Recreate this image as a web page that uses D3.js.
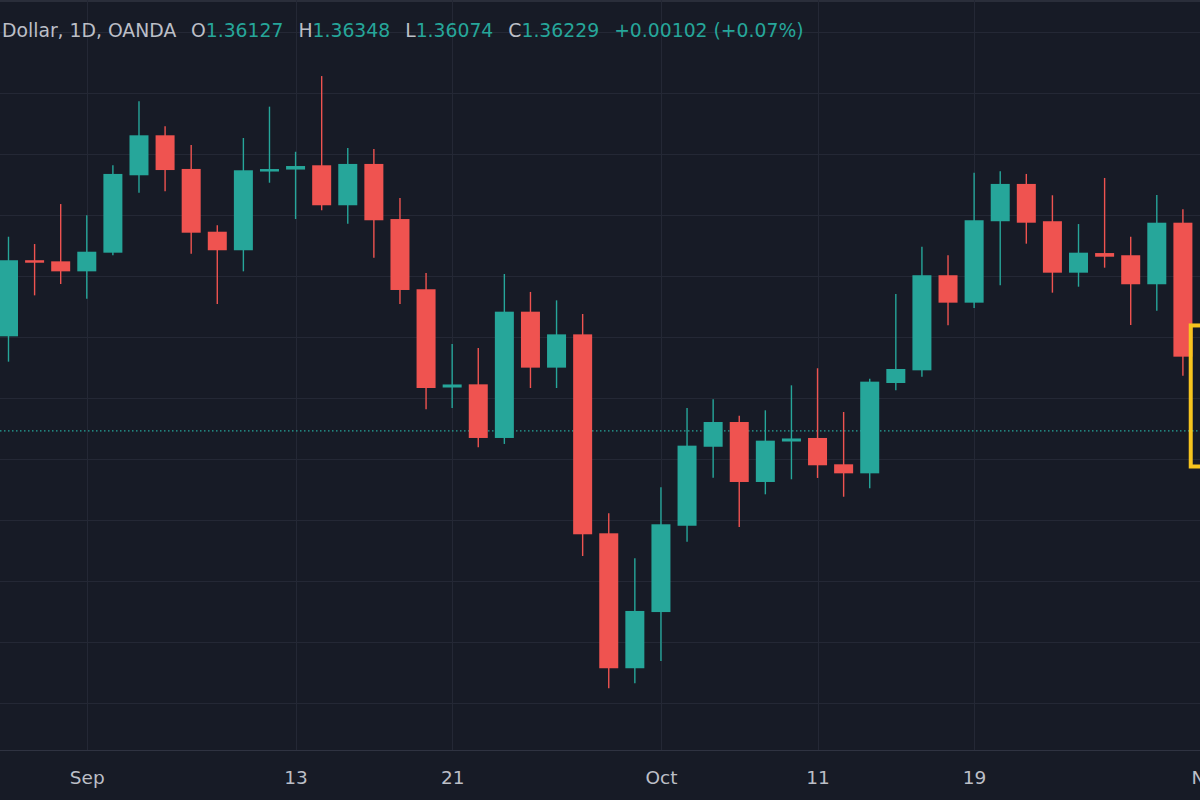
<!DOCTYPE html>
<html>
<head>
<meta charset="utf-8">
<script src="https://cdn.jsdelivr.net/npm/d3@7"></script>
<style>
  html, body { margin: 0; padding: 0; background: #171b26; overflow: hidden; }
  text { font-family: "DejaVu Sans", sans-serif; }
</style>
</head>
<body>
<div id="chart"></div>
<script>
/**
 * DATA (GBP/USD daily)
 * */
const dates = [
  "Aug 27", "Aug 30", "Aug 31", "Sep 1", "Sep 2", "Sep 3", "Sep 6", "Sep 7", "Sep 8", "Sep 9",
  "Sep 10", "Sep 13", "Sep 14", "Sep 15", "Sep 16", "Sep 17", "Sep 20", "Sep 21", "Sep 22", "Sep 23",
  "Sep 24", "Sep 27", "Sep 28", "Sep 29", "Sep 30", "Oct 1", "Oct 4", "Oct 5", "Oct 6", "Oct 7",
  "Oct 8", "Oct 11", "Oct 12", "Oct 13", "Oct 14", "Oct 15", "Oct 18", "Oct 19", "Oct 20", "Oct 21",
  "Oct 22", "Oct 25", "Oct 26", "Oct 27", "Oct 28", "Oct 29"
];
const opens = [
  1.37004, 1.37626, 1.37619, 1.37537, 1.37690, 1.38325, 1.38653, 1.38377, 1.37862, 1.37710,
  1.38360, 1.38372, 1.38407, 1.38079, 1.38418, 1.37966, 1.37390, 1.36584, 1.36610, 1.36170,
  1.37206, 1.36747, 1.37020, 1.35388, 1.34281, 1.34742, 1.35450, 1.36098, 1.36301, 1.35809,
  1.36141, 1.36170, 1.35954, 1.35880, 1.36621, 1.36725, 1.37505, 1.37280, 1.37948, 1.38254,
  1.37948, 1.37526, 1.37687, 1.37669, 1.37431, 1.37936
];
const highs = [
  1.37821, 1.37761, 1.38089, 1.37997, 1.38407, 1.38932, 1.38727, 1.38573, 1.37915, 1.38631,
  1.38888, 1.38518, 1.39139, 1.38549, 1.38541, 1.38139, 1.37523, 1.36941, 1.36908, 1.37515,
  1.37368, 1.37299, 1.37187, 1.35552, 1.35183, 1.35765, 1.36416, 1.36487, 1.36353, 1.36397,
  1.36602, 1.36742, 1.36383, 1.36656, 1.37351, 1.37739, 1.37669, 1.38346, 1.38358, 1.38336,
  1.38161, 1.37925, 1.38303, 1.37821, 1.38163, 1.38046
];
const lows = [
  1.36796, 1.37340, 1.37433, 1.37313, 1.37669, 1.38182, 1.38194, 1.37682, 1.37269, 1.37537,
  1.38264, 1.37966, 1.38038, 1.37928, 1.37649, 1.37269, 1.36405, 1.36416, 1.36094, 1.36121,
  1.36580, 1.36580, 1.35202, 1.34116, 1.34158, 1.34340, 1.35319, 1.35844, 1.35440, 1.35708,
  1.35831, 1.35842, 1.35688, 1.35757, 1.36561, 1.36673, 1.37094, 1.37236, 1.37422, 1.37764,
  1.37362, 1.37411, 1.37567, 1.37097, 1.37214, 1.36681
];
const closes = [
  1.37628, 1.37610, 1.37537, 1.37698, 1.38336, 1.38653, 1.38368, 1.37854, 1.37710, 1.38366,
  1.38372, 1.38401, 1.38079, 1.38418, 1.37956, 1.37384, 1.36580, 1.36609, 1.36170, 1.37206,
  1.36747, 1.37020, 1.35380, 1.34281, 1.34751, 1.35462, 1.36107, 1.36301, 1.35809, 1.36148,
  1.36166, 1.35946, 1.35880, 1.36632, 1.36736, 1.37505, 1.37280, 1.37956, 1.38254, 1.37936,
  1.37526, 1.37690, 1.37657, 1.37431, 1.37936, 1.36837
];

// time axis labels: candle index -> label ("Nov" falls on the next, unseen bar)
const tickIndex = [3, 11, 17, 25, 31, 37, 46];
const tickLabels = ["Sep", "13", "21", "Oct", "11", "19", "Nov"];

// horizontal grid prices
const gridPrices = [1.34, 1.345, 1.35, 1.355, 1.36, 1.365, 1.37, 1.375, 1.38, 1.385, 1.39, 1.395];

// legend line
const symbolText = "Dollar, 1D, OANDA";
const ohlcKeys = ["O", "H", "L", "C"];
const ohlcValues = [1.36127, 1.36348, 1.36074, 1.36229];
const changeText = "+0.00102 (+0.07%)";
const lastPrice = 1.36229;

// highlight box drawn on the chart (bar index, price top, price bottom)
const boxStart = 45.3;
const boxTop = 1.37093;
const boxBottom = 1.35936;

/**
 * CONSTANTS
 * */
const width = 1200, height = 800;
const axisY = 750;
const upColor = "#26a69a", downColor = "#ef5350";
const gridColor = "#242835";
const textColor = "#bcbfc7";

const candles = dates.map((d, i) => ({
  date: d, i,
  open: opens[i], high: highs[i], low: lows[i], close: closes[i]
}));

const svg = d3.select("#chart")
  .append("svg")
  .attr("width", width)
  .attr("height", height);

svg.append("rect")
  .attr("width", width).attr("height", height)
  .attr("fill", "#171b26");

// thin pane border at the very top
svg.append("rect")
  .attr("width", width).attr("height", 2)
  .attr("fill", "#2a2e3a");

// SCALES
const x = d3.scaleLinear().domain([0, 46]).range([8.5, 1209]);
const y = d3.scaleLinear().domain([1.34, 1.39]).range([702.5, 93]);

// GRID
svg.append("g")
  .selectAll("line")
  .data(gridPrices)
  .join("line")
  .attr("x1", 0).attr("x2", width)
  .attr("y1", d => Math.round(y(d)) + 0.5)
  .attr("y2", d => Math.round(y(d)) + 0.5)
  .attr("stroke", gridColor);

svg.append("g")
  .selectAll("line")
  .data(tickIndex)
  .join("line")
  .attr("x1", d => Math.round(x(d)) + 0.5)
  .attr("x2", d => Math.round(x(d)) + 0.5)
  .attr("y1", 0).attr("y2", axisY)
  .attr("stroke", gridColor);

// x axis
const xAxis = d3.axisBottom(x)
  .tickValues(tickIndex)
  .tickFormat((d, i) => tickLabels[i])
  .tickSize(0)
  .tickPadding(21);

const axisG = svg.append("g")
  .attr("transform", `translate(0,${axisY})`)
  .call(xAxis);
axisG.select(".domain").attr("stroke", "#2f3341").attr("d", `M0,0.5H${width}`);
axisG.selectAll("text")
  .attr("fill", textColor)
  .attr("font-size", 18.5)
  .attr("font-family", "'DejaVu Sans', sans-serif");

// last price dotted line
svg.append("line")
  .attr("x1", 0).attr("x2", width)
  .attr("y1", y(lastPrice)).attr("y2", y(lastPrice))
  .attr("stroke", upColor)
  .attr("stroke-width", 1.2)
  .attr("stroke-dasharray", "1.5,2.5");

// CANDLES
const bodyW = 19;
const g = svg.append("g");

g.selectAll("line.wick")
  .data(candles)
  .join("line")
  .attr("class", "wick")
  .attr("x1", d => x(d.i)).attr("x2", d => x(d.i))
  .attr("y1", d => y(d.high)).attr("y2", d => y(d.low))
  .attr("stroke", d => d.close >= d.open ? upColor : downColor)
  .attr("stroke-width", 1.4);

g.selectAll("rect.body")
  .data(candles)
  .join("rect")
  .attr("class", "body")
  .attr("x", d => x(d.i) - bodyW / 2)
  .attr("width", bodyW)
  .attr("y", d => {
    const top = y(Math.max(d.open, d.close)), bot = y(Math.min(d.open, d.close));
    return bot - top < 2.5 ? (top + bot) / 2 - 1.25 : top;
  })
  .attr("height", d => Math.max(2.5, y(Math.min(d.open, d.close)) - y(Math.max(d.open, d.close))))
  .attr("fill", d => d.close >= d.open ? upColor : downColor);

// highlight box
svg.append("rect")
  .attr("x", x(boxStart))
  .attr("y", y(boxTop))
  .attr("width", 60)
  .attr("height", y(boxBottom) - y(boxTop))
  .attr("fill", "none")
  .attr("stroke", "#f7c51e")
  .attr("stroke-width", 4);

// LEGEND LINE
const legend = svg.append("text")
  .attr("x", 2)
  .attr("y", 37)
  .attr("font-size", 18.8)
  .attr("fill", textColor);

legend.append("tspan").text(symbolText);
ohlcKeys.forEach((k, i) => {
  legend.append("tspan").attr("dx", 15).attr("fill", textColor).text(k);
  legend.append("tspan").attr("fill", upColor).text(ohlcValues[i].toFixed(5));
});
legend.append("tspan").attr("dx", 15).attr("fill", upColor).text(changeText);
</script>
</body>
</html>
